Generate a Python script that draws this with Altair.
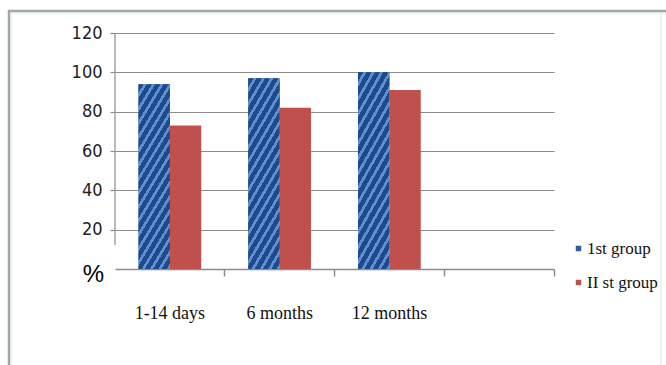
import altair as alt
import pandas as pd

# ---- data ----
categories = ["1-14 days", "6 months", "12 months"]
group_names = ["1st group", "II st group"]
group1_values = [94, 97, 100]
group2_values = [73, 82, 91]
y_ticks = [20, 40, 60, 80, 100, 120]

rows = []
for c, v in zip(categories, group1_values):
    rows.append({"period": c, "group": group_names[0], "value": v})
for c, v in zip(categories, group2_values):
    rows.append({"period": c, "group": group_names[1], "value": v})
df = pd.DataFrame(rows)

x_domain = categories + [""]  # empty fourth slot as in the reference

# ---- layout ----
W, H = 666, 365
PL, PT, PW, PH = 115, 33, 439, 236
PR = W - PL - PW
PB = H - PT - PH

GRID = "#8c8c8c"
BLUE_DARK = "#1F4A8A"
BLUE_LIGHT = "#5E8FD4"
RED = "#C0504D"

# diagonal hatch built from a striped linear gradient
N = 17
stops = []
for i in range(N):
    a, b, c = i / N, (i + 0.62) / N, (i + 1) / N
    stops += [
        {"offset": a, "color": BLUE_DARK},
        {"offset": b, "color": BLUE_DARK},
        {"offset": b, "color": BLUE_LIGHT},
        {"offset": c, "color": BLUE_LIGHT},
    ]
hatch = {"gradient": "linear", "x1": 0, "y1": 0, "x2": 0.336, "y2": 1.188, "stops": stops}

x_enc = alt.X(
    "period:N",
    scale=alt.Scale(domain=x_domain, paddingInner=0, paddingOuter=0),
    axis=alt.Axis(
        title=None,
        bandPosition=1,
        labelAngle=0,
        labelFont="Liberation Serif",
        labelFontSize=18,
        labelColor="#111111",
        labelPadding=28,
        tickSize=7,
        tickColor=GRID,
        tickWidth=1.5,
        domainColor=GRID,
        domainWidth=1.5,
        grid=False,
    ),
)
xoff_enc = alt.XOffset(
    "group:N", scale=alt.Scale(domain=group_names, paddingInner=0, paddingOuter=0.75)
)
y_enc = alt.Y(
    "value:Q",
    scale=alt.Scale(domain=[0, 120], nice=False),
    axis=alt.Axis(
        values=y_ticks,
        title="%",
        titleAngle=0,
        titleX=-22,
        titleY=241,
        titleAlign="center",
        titleBaseline="middle",
        titleFont="Liberation Sans",
        titleFontSize=24,
        titleFontWeight="normal",
        titleColor="#000000",
        labelFont="Liberation Sans Narrow, Arial Narrow, DejaVu Sans Condensed, sans-serif",
        labelFontSize=18,
        labelColor="#222222",
        labelPadding=8,
        tickSize=5,
        tickColor=GRID,
        tickWidth=1.2,
        gridColor=GRID,
        gridWidth=1.2,
        domain=False,
    ),
)

bars = alt.Chart(df).mark_bar().encode(
    x=x_enc,
    xOffset=xoff_enc,
    y=y_enc,
    color=alt.Color(
        "group:N",
        scale=alt.Scale(domain=group_names, range=["#2B5C9E", RED]),
        legend=alt.Legend(
            title=None,
            orient="none",
            legendX=455,
            legendY=207,
            padding=0,
            symbolType="square",
            symbolSize=30,
            symbolStrokeWidth=0,
            labelFont="Liberation Serif",
            labelFontSize=17,
            labelColor="#111111",
            labelOffset=0,
            rowPadding=16,
        ),
    ),
)

hatched = (
    alt.Chart(df)
    .transform_filter(alt.datum.group == group_names[0])
    .mark_bar(fill=hatch)
    .encode(x=x_enc, xOffset=xoff_enc, y=y_enc)
)

one = alt.Data(values=[{"k": 1}])
y_axis_line = alt.Chart(one).mark_rule(color=GRID, strokeWidth=1.2).encode(
    x=alt.value(0), y=alt.value(0), y2=alt.value(212)
)
frame_top = alt.Chart(one).mark_rule(color="#a6a6a6", strokeWidth=2.5).encode(
    x=alt.value(8 - PL), x2=alt.value(W - PL), y=alt.value(11 - PT)
)
frame_left = alt.Chart(one).mark_rule(color="#a6a6a6", strokeWidth=2.5).encode(
    x=alt.value(9 - PL), y=alt.value(10 - PT), y2=alt.value(H - PT)
)
frame_top_in = alt.Chart(one).mark_rule(color="#cfe6ee", strokeWidth=1).encode(
    x=alt.value(11 - PL), x2=alt.value(W - PL), y=alt.value(13 - PT)
)
frame_left_in = alt.Chart(one).mark_rule(color="#cfe6ee", strokeWidth=1).encode(
    x=alt.value(11 - PL), y=alt.value(13 - PT), y2=alt.value(H - PT)
)
frame_right = alt.Chart(one).mark_rule(color="#dde3e6", strokeWidth=1).encode(
    x=alt.value(661 - PL), y=alt.value(12 - PT), y2=alt.value(H - PT)
)

chart = (
    alt.layer(
        frame_top, frame_left, frame_top_in, frame_left_in, frame_right,
        bars, hatched, y_axis_line,
    )
    .properties(
        width=PW,
        height=PH,
        autosize=alt.AutoSizeParams(type="none"),
        padding={"left": PL, "top": PT, "right": PR, "bottom": PB},
        background="white",
    )
    .configure_view(stroke=None)
)

chart.save("out.html", embed_options={"renderer": "svg", "actions": False})
